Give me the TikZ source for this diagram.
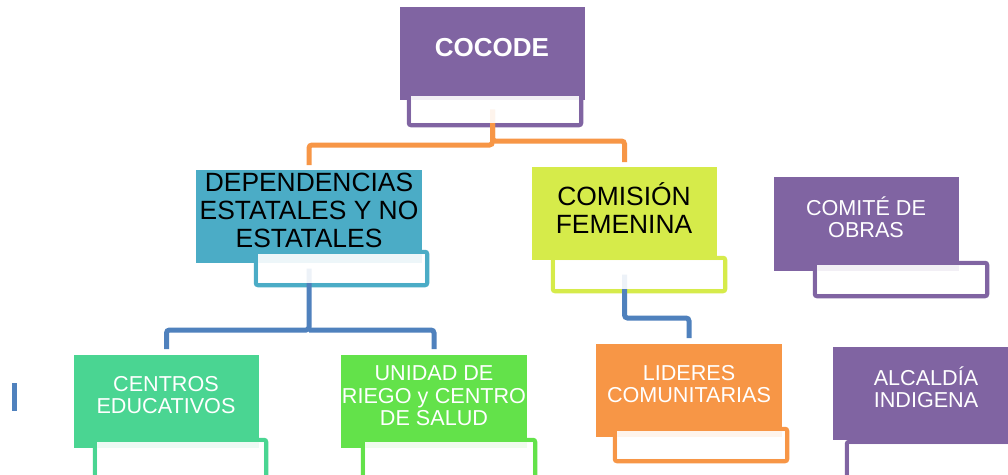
\documentclass[tikz,border=0pt]{standalone}
\usepackage{fontspec}
\setmainfont{Liberation Sans}
\definecolor{cpurple}{HTML}{8064A2}
\definecolor{cteal}{HTML}{4BACC6}
\definecolor{clime}{HTML}{D6EB4A}
\definecolor{cmint}{HTML}{4AD592}
\definecolor{cgreen}{HTML}{63E24A}
\definecolor{corange}{HTML}{F79646}
\definecolor{cblue}{HTML}{4F81BD}
\begin{document}
\begin{tikzpicture}[x=1pt,y=-1pt,
  mainbox/.style={anchor=north west, inner sep=0pt, outer sep=0pt, draw=none, fill=#1},
  secbox/.style={anchor=north west, inner sep=0pt, outer sep=0pt, draw=#1, line width=4.5pt, rounded corners=2pt},
  oconn/.style={draw=corange, line width=5pt, rounded corners=3pt},
  bconn/.style={draw=cblue, line width=5pt, rounded corners=3pt},
  bigtxt/.style={align=center, inner sep=0pt, font=\fontsize{26.4}{28}\selectfont},
  smalltxt/.style={align=center, inner sep=0pt, text=white, font=\fontsize{21.6}{22.5}\selectfont}
]
\useasboundingbox (0,0) rectangle (1008,474);
\clip (0,0) rectangle (1008,474);
\fill[white] (0,0) rectangle (1008,474);

% secondary boxes (borders)
\node[secbox=cpurple, minimum width=172pt, minimum height=31pt] (cocodeb) at (409,94) {};
\node[secbox=cteal, minimum width=171pt, minimum height=33pt] (depb) at (256,252) {};
\node[secbox=clime, minimum width=172pt, minimum height=33pt] (comb) at (553,258) {};
\node[secbox=cpurple, minimum width=172pt, minimum height=33pt] (obrasb) at (815,263) {};
\node[secbox=cmint, minimum width=171pt, minimum height=40pt] (centrosb) at (95,440) {};
\node[secbox=cgreen, minimum width=172pt, minimum height=40pt] (unidadb) at (363,440) {};
\node[secbox=corange, minimum width=172pt, minimum height=32pt] (lideresb) at (615,429) {};
\node[secbox=cpurple, minimum width=172pt, minimum height=40pt] (alcaldiab) at (847,442) {};

% main boxes
\node[mainbox=cpurple, minimum width=185pt, minimum height=93pt] (cocode) at (400,7) {};
\node[mainbox=cteal, minimum width=226pt, minimum height=93pt] (dep) at (196,170) {};
\node[mainbox=clime, minimum width=185pt, minimum height=93pt] (com) at (532,167) {};
\node[mainbox=cpurple, minimum width=185pt, minimum height=94pt] (obras) at (774,177) {};
\node[mainbox=cmint, minimum width=185pt, minimum height=93pt] (centros) at (74,355) {};
\node[mainbox=cgreen, minimum width=186pt, minimum height=93pt] (unidad) at (341,355) {};
\node[mainbox=corange, minimum width=186pt, minimum height=93pt] (lideres) at (596,344) {};
\node[mainbox=cpurple, minimum width=185pt, minimum height=93pt] (alcaldia) at (833,347) {};

% connectors
\draw[oconn] (cocode.south |- cocodeb.center) -- (cocode.south |- 0,145) -| ([yshift=5pt]dep.north);
\draw[oconn] (cocode.south |- cocodeb.center) -- (cocode.south |- 0,141) -| ([yshift=5pt]com.north);
\draw[bconn] (dep.south |- depb.center) -- (dep.south |- 0,330) -| ([yshift=6pt]centros.north);
\draw[bconn] (dep.south |- 0,330) -| ([yshift=6pt]unidad.north);
\draw[bconn] (com.south |- comb.center) -- (com.south |- 0,318) -| ([yshift=6pt]lideres.north);

% secondary box interiors
\foreach \b in {cocodeb,depb,comb,obrasb,centrosb,unidadb,lideresb,alcaldiab}{
  \fill[white, fill opacity=0.9] ([xshift=2.25pt,yshift=-2.25pt]\b.north west) rectangle ([xshift=-2.25pt,yshift=2.25pt]\b.south east);
}

% stray mark
\fill[cblue] (12,383) rectangle (17,411);

% texts
\node[align=center, inner sep=0pt, text=white, font=\fontsize{26}{30}\selectfont\bfseries] (cocodet) at (492,48) {COCODE};
\node[bigtxt] (dept) at (309,210) {DEPENDENCIAS\\ESTATALES Y NO\\ESTATALES};
\node[bigtxt] (comt) at (624,208) {COMISIÓN\\FEMENINA};
\node[smalltxt] (obrast) at (866,217) {COMITÉ DE\\OBRAS};
\node[smalltxt] (centrost) at (166,395) {CENTROS\\EDUCATIVOS};
\node[smalltxt] (unidadt) at (434,396) {UNIDAD DE\\RIEGO y\hspace{0.3em}CENTRO\\DE SALUD};
\node[smalltxt] (liderest) at (689,384) {LIDERES\\COMUNITARIAS};
\node[smalltxt] (alcaldiat) at (926,387) {ALCALDÍA\\INDIGENA};
\end{tikzpicture}
\end{document}
